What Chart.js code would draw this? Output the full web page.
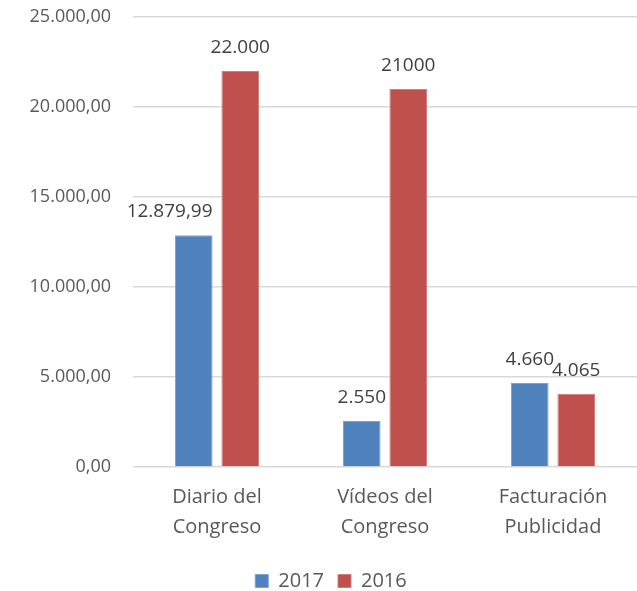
<!DOCTYPE html>
<html>
<head>
<meta charset="utf-8">
<script src="https://cdn.jsdelivr.net/npm/chart.js@4/dist/chart.umd.min.js"></script>
<style>
  html, body { margin: 0; padding: 0; background: #ffffff; }
  #wrap { width: 637px; height: 591px; }
</style>
</head>
<body>
<div id="wrap"><canvas id="barChart"></canvas></div>
<script>
  "use strict";

  const categories = [["Diario del", "Congreso"], ["Vídeos del", "Congreso"], ["Facturación", "Publicidad"]];
  const seriesNames = ["2017", "2016"];
  const values2017 = [12879.99, 2550, 4660];
  const values2016 = [22000, 21000, 4065];
  // labels as printed on the original chart (formatting is not consistent there)
  const labels2017 = ["12.879,99", "2.550", "4.660"];
  const labels2016 = ["22.000", "21000", "4.065"];

  const FONT = "'Open Sans', 'Noto Sans', sans-serif";
  const TEXT = "#595959";
  const SIZE = 20;

  function fmtTick(v) {
    const s = Math.round(v).toString().replace(/\B(?=(\d{3})+(?!\d))/g, ".");
    return s + ",00";
  }

  const barLabels = {
    id: "barLabels",
    afterDatasetsDraw(chart) {
      const ctx = chart.ctx;
      ctx.save();
      ctx.font = "19px " + FONT;
      ctx.fillStyle = "#404040";
      ctx.textBaseline = "alphabetic";
      ctx.textAlign = "center";
      chart.data.datasets.forEach((ds, i) => {
        const meta = chart.getDatasetMeta(i);
        meta.data.forEach((bar, j) => {
          const txt = ds.valueLabels[j];
          const w = ctx.measureText(txt).width;
          let x = bar.x;
          // too wide for the slot: keep its right edge on the bar's right edge
          if (w > bar.width * 2) x = bar.x + bar.width / 2 - w / 2;
          ctx.fillText(txt, x, bar.y - 18);
        });
      });
      ctx.restore();
    },
  };

  new Chart(document.getElementById("barChart"), {
    type: "bar",
    data: {
      labels: categories,
      datasets: [
        {
          label: seriesNames[0],
          data: values2017,
          valueLabels: labels2017,
          backgroundColor: "#4f81bd",
          borderColor: "#7ea2cf",
          borderWidth: 1,
        },
        {
          label: seriesNames[1],
          data: values2016,
          valueLabels: labels2016,
          backgroundColor: "#c0504d",
          borderColor: "#d27c79",
          borderWidth: 1,
        },
      ],
    },
    options: {
      responsive: true,
      maintainAspectRatio: false,
      animation: false,
      datasets: {
        bar: { categoryPercentage: 0.553, barPercentage: 0.81 },
      },
      layout: { padding: { top: 17, right: 0, bottom: -10, left: 25 } },
      plugins: {
        tooltip: { enabled: false },
        legend: {
          position: "bottom",
          labels: {
            boxWidth: 13,
            boxHeight: 13,
            padding: 14,
            color: TEXT,
            font: { family: FONT, size: SIZE },
          },
        },
      },
      scales: {
        x: {
          grid: { display: false },
          border: { display: false },
          ticks: {
            color: TEXT,
            font: { family: FONT, size: SIZE, lineHeight: 1.5 },
            padding: 7,
            maxRotation: 0,
          },
          afterFit: (scale) => {
            scale.height = 90;
          },
        },
        y: {
          min: 0,
          max: 25000,
          border: { display: false },
          grid: { color: "#d9d9d9", lineWidth: 1.5, drawTicks: false },
          ticks: {
            stepSize: 5000,
            color: TEXT,
            font: { family: FONT, size: 18 },
            padding: 22,
            callback: (v) => fmtTick(v),
          },
          afterFit: (scale) => {
            scale.width = 108;
            scale.paddingTop = 0;
            scale.paddingBottom = 0;
          },
        },
      },
    },
    plugins: [barLabels],
  });
</script>
</body>
</html>
